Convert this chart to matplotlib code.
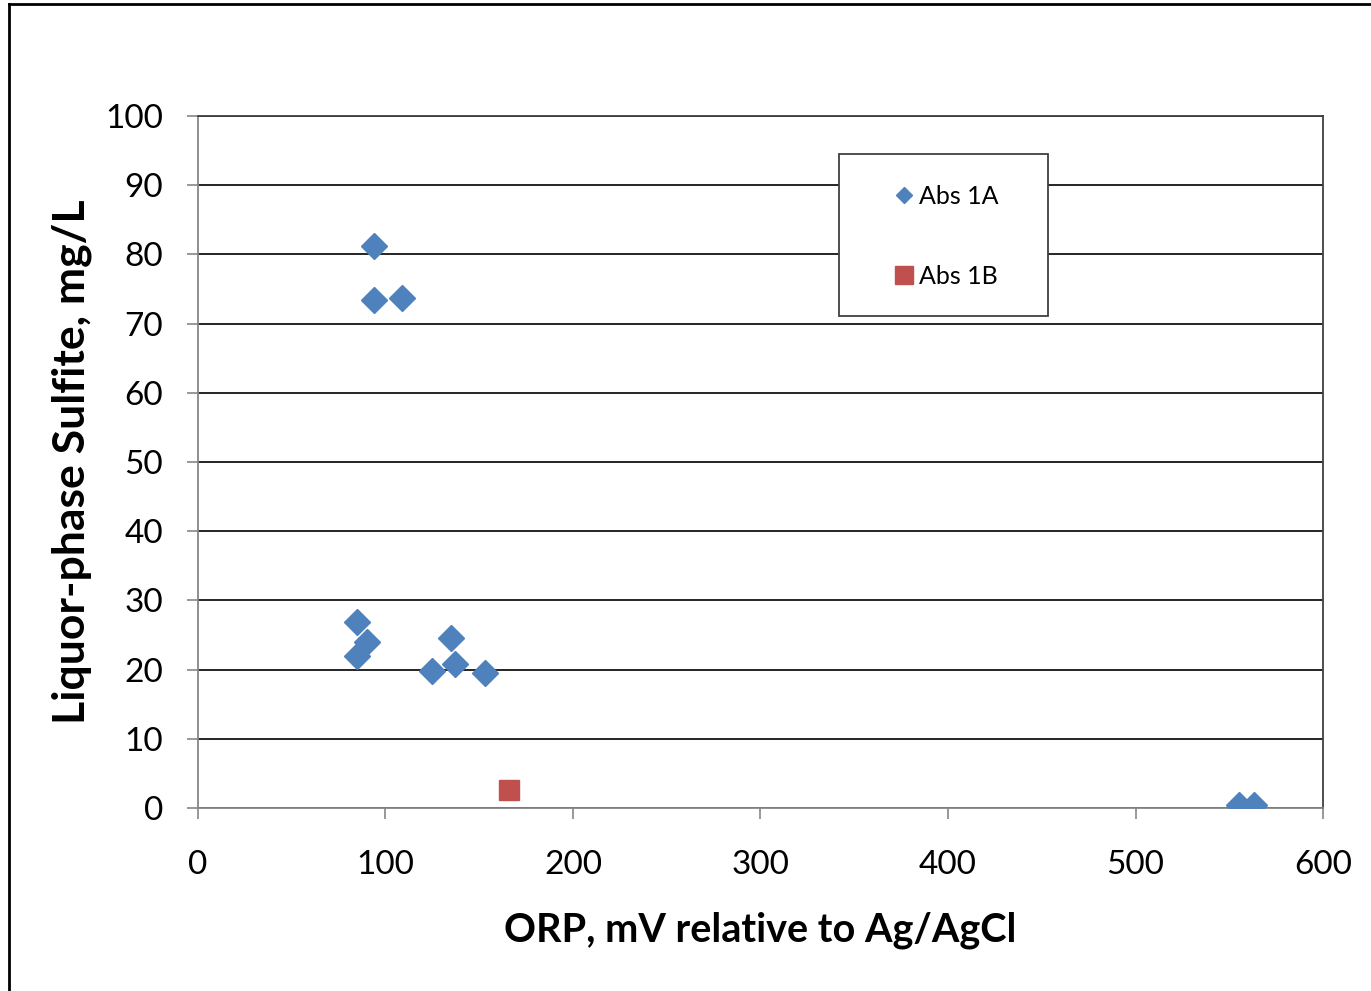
# ORPと液相亜硫酸濃度の散布図
import matplotlib
matplotlib.use("Agg")
import matplotlib.pyplot as plt
from matplotlib.lines import Line2D
from matplotlib.patches import Rectangle

#### -------- データ -------- ####
orp_1a = [94, 94, 109, 85, 90, 85, 125, 135, 137, 153, 555, 563]
sulfite_1a = [81.2, 73.4, 73.7, 26.9, 24.0, 21.9, 19.8, 24.6, 20.8, 19.5, 0.4, 0.4]
orp_1b = [166]
sulfite_1b = [2.6]

x_ticks = [0, 100, 200, 300, 400, 500, 600]
y_ticks = [0, 10, 20, 30, 40, 50, 60, 70, 80, 90, 100]

BLUE = "#4F81BD"
RED = "#C0504D"

#### -------- グラフ設定 -------- ####
plt.rcParams["font.family"] = ["Lato", "DejaVu Sans"]

fig = plt.figure(figsize=(13.71, 9.91), dpi=100)
ax = fig.add_axes([0.1444, 0.1847, 0.8206, 0.6982])

ax.plot(orp_1a, sulfite_1a, linestyle="none", marker="D", ms=13.5,
        color=BLUE, label="Abs 1A", zorder=3)
ax.plot(orp_1b, sulfite_1b, linestyle="none", marker="s", ms=15,
        color=RED, label="Abs 1B", zorder=3)

ax.set_xlim(0, 600)
ax.set_ylim(0, 100)
ax.set_xticks(x_ticks)
ax.set_yticks(y_ticks)
ax.grid(axis="y", color="black", lw=1.2)
ax.set_axisbelow(True)

for side in ["left", "bottom"]:
    ax.spines[side].set_color("#868686")
    ax.spines[side].set_linewidth(1.3)
for side in ["top", "right"]:
    ax.spines[side].set_color("#404040")
    ax.spines[side].set_linewidth(1.3)

ax.tick_params(axis="both", direction="out", length=8, width=1.2,
               color="#868686", labelsize=24)
ax.tick_params(axis="y", pad=17)
ax.tick_params(axis="x", pad=22)

ax.set_xlabel("ORP, mV relative to Ag/AgCl", fontsize=28.5, fontweight="bold")
ax.set_ylabel("Liquor-phase Sulfite, mg/L", fontsize=32, fontweight="bold")
ax.xaxis.set_label_coords(0.5, -0.150)
ax.yaxis.set_label_coords(-0.094, 0.5)

# 凡例の枠
ax.add_patch(Rectangle((0.570, 0.711), 0.1857, 0.234, transform=ax.transAxes,
                       facecolor="white", edgecolor="#404040", lw=1.3, zorder=4))
leg = ax.legend(
    handles=[
        Line2D([], [], linestyle="none", marker="D", ms=8.5, color=BLUE),
        Line2D([], [], linestyle="none", marker="s", ms=12.5, color=RED),
    ],
    labels=["Abs 1A", "Abs 1B"],
    loc="center", bbox_to_anchor=(0.570 + 0.1857 / 2 + 0.002, 0.711 + 0.234 / 2 - 0.002),
    frameon=False, fontsize=18, labelspacing=2.3, handlelength=0.8,
    handletextpad=0.2,
)
leg.set_zorder(5)

# 外枠 (左・上)
fig.add_artist(Line2D([0.0066, 0.0066], [0, 0.996], color="black", lw=2,
                      transform=fig.transFigure))
fig.add_artist(Line2D([0.0066, 1.0], [0.996, 0.996], color="black", lw=2,
                      transform=fig.transFigure))

#### -------- 保存 -------- ####
fig.savefig("out.png", dpi=100)
